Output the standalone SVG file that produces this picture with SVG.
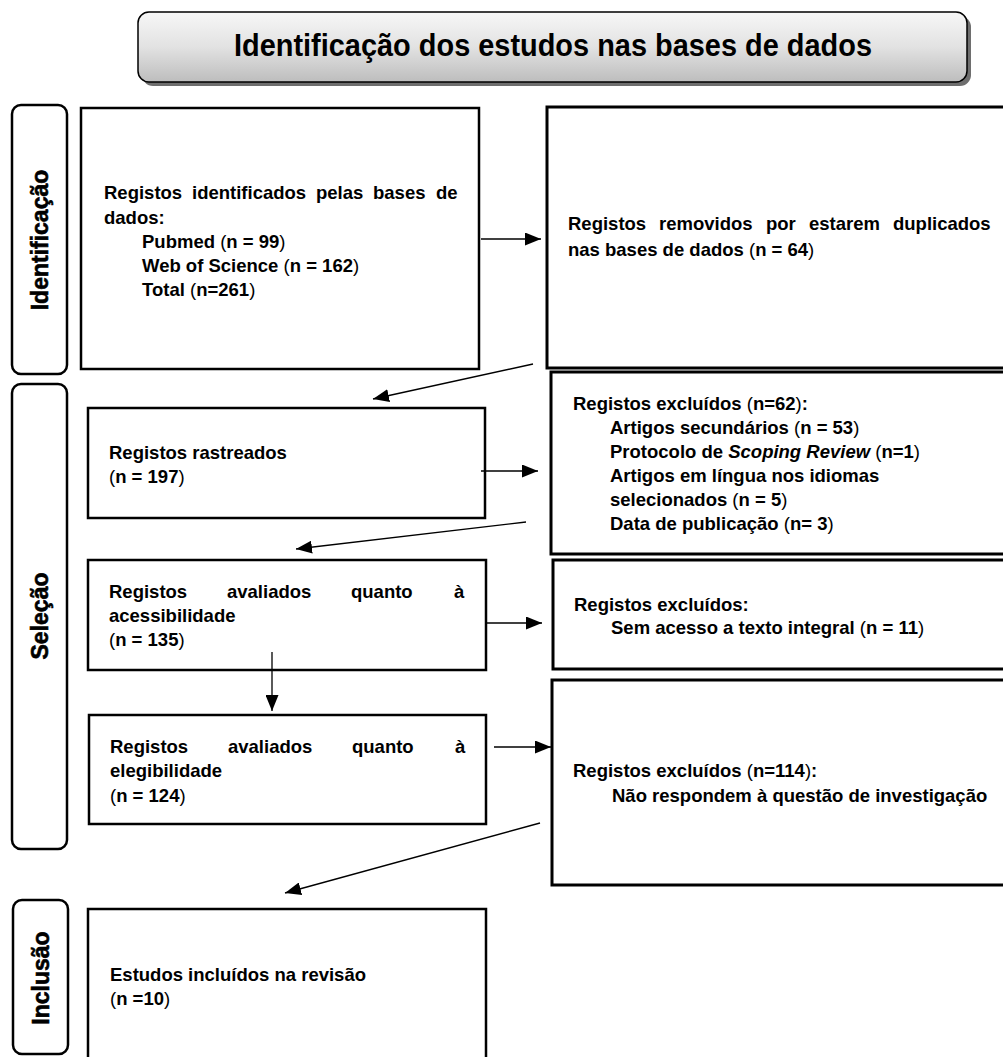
<svg xmlns="http://www.w3.org/2000/svg" width="1003" height="1057" viewBox="0 0 1003 1057">
<defs>
<linearGradient id="tg" x1="0" y1="0" x2="0" y2="1">
<stop offset="0" stop-color="#f7f7f7"/>
<stop offset="0.5" stop-color="#e2e2e2"/>
<stop offset="1" stop-color="#bdbdbd"/>
</linearGradient>
<marker id="ah" viewBox="0 0 16 13" refX="16" refY="6.5" markerWidth="16" markerHeight="13" markerUnits="userSpaceOnUse" orient="auto">
<path d="M0,0 L16,6.5 L0,13 Z" fill="#000"/>
</marker>
<style>
.t{font-family:"Liberation Sans",Arial,sans-serif;font-weight:bold;font-size:18.5px;fill:#000}
.pr{font-weight:normal}
.it{font-style:italic}
.box{fill:#fff;stroke:#000;stroke-width:2.5}
.rbox{fill:#fff;stroke:#000;stroke-width:3}
.phase{fill:#fff;stroke:#000;stroke-width:2.5}
.lbl{font-family:"Liberation Sans",Arial,sans-serif;font-weight:bold;font-size:23px;text-anchor:middle;fill:#000;stroke:#000;stroke-width:0.6}
.conn{stroke:#000;stroke-width:1.3;fill:none;marker-end:url(#ah)}
</style>
</defs>
<rect width="1003" height="1057" fill="#fff"/>

<g id="title">
<rect x="142" y="16" width="829" height="70" rx="11" fill="#6e6e6e"/>
<rect x="138" y="12" width="829" height="70" rx="11" fill="url(#tg)" stroke="#000" stroke-width="1.5"/>
<text x="553" y="56" font-family="'Liberation Sans',Arial,sans-serif" font-weight="bold" font-size="31" text-anchor="middle" textLength="638" lengthAdjust="spacingAndGlyphs">Identificação dos estudos nas bases de dados</text>
</g>

<g id="phase-identificacao">
<rect class="phase" x="12" y="105" width="55" height="269" rx="9"/>
<text class="lbl" transform="translate(48,240) rotate(-90)">Identificação</text>
</g>
<g id="phase-selecao">
<rect class="phase" x="12" y="384" width="55" height="465" rx="9"/>
<text class="lbl" transform="translate(48,616) rotate(-90)">Seleção</text>
</g>
<g id="phase-inclusao">
<rect class="phase" x="13" y="900" width="55" height="154" rx="9"/>
<text class="lbl" transform="translate(49,978) rotate(-90)">Inclusão</text>
</g>

<g id="n-identificados">
<rect class="box" x="81" y="108" width="398" height="261"/>
<text class="t" y="199"><tspan x="104">Registos</tspan><tspan x="192">identificados</tspan><tspan x="316">pelas</tspan><tspan x="373">bases</tspan><tspan x="436">de</tspan></text>
<text class="t" x="104" y="224">dados:</text>
<text class="t" x="142" y="248">Pubmed <tspan class="pr">(</tspan>n = 99<tspan class="pr">)</tspan></text>
<text class="t" x="142" y="272">Web of Science <tspan class="pr">(</tspan>n = 162<tspan class="pr">)</tspan></text>
<text class="t" x="142" y="296">Total <tspan class="pr">(</tspan>n=261<tspan class="pr">)</tspan></text>
</g>

<g id="n-duplicados">
<rect class="rbox" x="547" y="107" width="470" height="261"/>
<text class="t" y="230"><tspan x="568">Registos</tspan><tspan x="659">removidos</tspan><tspan x="766">por</tspan><tspan x="809">estarem</tspan><tspan x="893">duplicados</tspan></text>
<text class="t" x="568" y="256">nas bases de dados <tspan class="pr">(</tspan>n = 64<tspan class="pr">)</tspan></text>
</g>

<g id="n-rastreados">
<rect class="box" x="88" y="408" width="397" height="110"/>
<text class="t" x="109" y="459">Registos rastreados</text>
<text class="t" x="109" y="483"><tspan class="pr">(</tspan>n = 197<tspan class="pr">)</tspan></text>
</g>

<g id="n-excluidos-62">
<rect class="rbox" x="551" y="372" width="466" height="182"/>
<text class="t" x="573" y="410">Registos excluídos <tspan class="pr">(</tspan>n=62<tspan class="pr">)</tspan>:</text>
<text class="t" x="610" y="434">Artigos secundários <tspan class="pr">(</tspan>n = 53<tspan class="pr">)</tspan></text>
<text class="t" x="610" y="458">Protocolo de <tspan class="it">Scoping Review</tspan> <tspan class="pr">(</tspan>n=1<tspan class="pr">)</tspan></text>
<text class="t" x="610" y="482">Artigos em língua nos idiomas</text>
<text class="t" x="610" y="506">selecionados <tspan class="pr">(</tspan>n = 5<tspan class="pr">)</tspan></text>
<text class="t" x="610" y="530">Data de publicação <tspan class="pr">(</tspan>n= 3<tspan class="pr">)</tspan></text>
</g>

<g id="n-acessibilidade">
<rect class="box" x="88" y="560" width="398" height="110"/>
<text class="t" y="598"><tspan x="109">Registos</tspan><tspan x="227">avaliados</tspan><tspan x="351">quanto</tspan><tspan x="454">à</tspan></text>
<text class="t" x="109" y="622">acessibilidade</text>
<text class="t" x="109" y="646"><tspan class="pr">(</tspan>n = 135<tspan class="pr">)</tspan></text>
</g>

<g id="n-sem-acesso">
<rect class="rbox" x="553" y="560" width="464" height="109"/>
<text class="t" x="574" y="611">Registos excluídos:</text>
<text class="t" x="611" y="634">Sem acesso a texto integral <tspan class="pr">(</tspan>n = 11<tspan class="pr">)</tspan></text>
</g>

<g id="n-elegibilidade">
<rect class="box" x="89" y="715" width="397" height="109"/>
<text class="t" y="753"><tspan x="110">Registos</tspan><tspan x="228">avaliados</tspan><tspan x="352">quanto</tspan><tspan x="455">à</tspan></text>
<text class="t" x="110" y="777">elegibilidade</text>
<text class="t" x="110" y="802"><tspan class="pr">(</tspan>n = 124<tspan class="pr">)</tspan></text>
</g>

<g id="n-excluidos-114">
<rect class="rbox" x="552" y="680" width="465" height="205"/>
<text class="t" x="573" y="777">Registos excluídos <tspan class="pr">(</tspan>n=114<tspan class="pr">)</tspan>:</text>
<text class="t" x="612" y="802">Não respondem à questão de investigação</text>
</g>

<g id="n-incluidos">
<rect class="box" x="88" y="909" width="398" height="170"/>
<text class="t" x="110" y="981">Estudos incluídos na revisão</text>
<text class="t" x="110" y="1005"><tspan class="pr">(</tspan>n =10<tspan class="pr">)</tspan></text>
</g>

<g id="connectors">
<line class="conn" x1="481" y1="239" x2="541" y2="239"/>
<line class="conn" x1="533" y1="364" x2="373" y2="399"/>
<line class="conn" x1="481" y1="471" x2="538" y2="471"/>
<line class="conn" x1="526" y1="522" x2="296" y2="549"/>
<line class="conn" x1="486" y1="623" x2="542" y2="623"/>
<line class="conn" x1="272" y1="652" x2="272" y2="711"/>
<line class="conn" x1="494" y1="747" x2="551" y2="747"/>
<line class="conn" x1="540" y1="823" x2="285" y2="893"/>
</g>
</svg>
